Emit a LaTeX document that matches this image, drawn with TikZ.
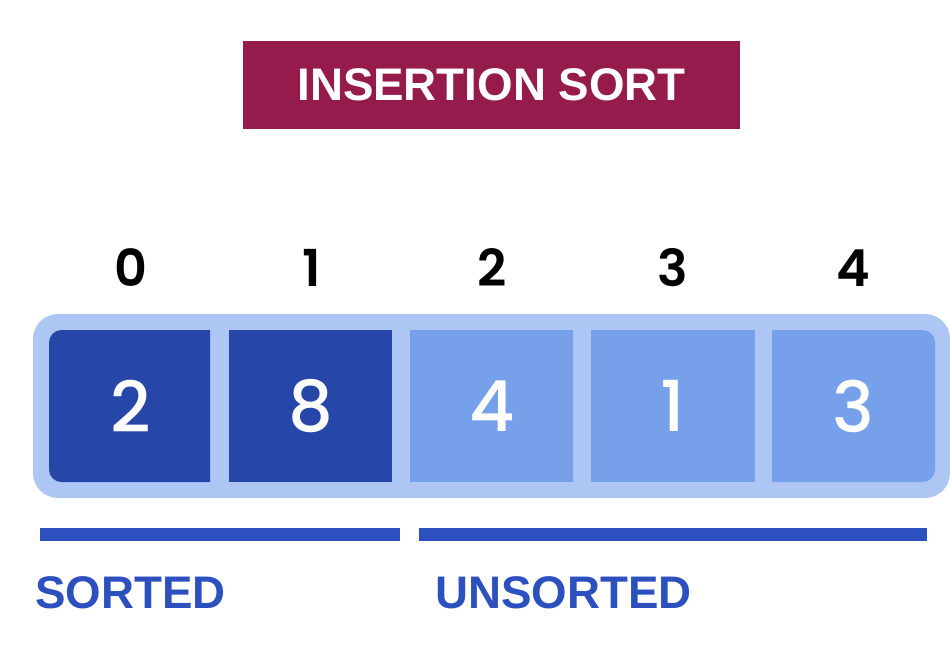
\documentclass[tikz,border=0pt]{standalone}
\usepackage{fontspec}
\setmainfont{Liberation Sans}
\newfontfamily\popfont{Poppins Medium}
\newfontfamily\popsemi{Poppins SemiBold}
\usepackage{tikz}
\usetikzlibrary{positioning}

\definecolor{titlered}{HTML}{951B4C}
\definecolor{trayblue}{HTML}{ADC6F4}
\definecolor{darkcell}{HTML}{2646A8}
\definecolor{lightcell}{HTML}{76A0EA}
\definecolor{markblue}{HTML}{2D50BF}

\tikzset{
  titlebox/.style={fill=titlered, text=white, minimum width=9.94cm, minimum height=1.76cm, font=\bfseries\fontsize{26}{30}\selectfont},
  idxlabel/.style={font=\popsemi\fontsize{29}{32}\selectfont},
  cellnum/.style={text=white, font=\popfont\fontsize{40}{44}\selectfont},
  barline/.style={markblue, line width=0.26cm},
  partlabel/.style={anchor=base west, inner sep=0pt, text=markblue, font=\bfseries\fontsize{26}{30}\selectfont}
}

\begin{document}
\begin{tikzpicture}[x=0.02cm,y=-0.02cm]
\useasboundingbox (0,0) rectangle (950,654);
\node[titlebox] (title) at (491.5,85) {INSERTION SORT};
% tray
\fill[trayblue, rounded corners=0.5cm] (33,314) rectangle (950,498);
% cells
\fill[darkcell] (210,330) [rounded corners=0.25cm] -- (49,330) -- (49,482) [sharp corners] -- (210,482) -- cycle;
\fill[darkcell] (229,330) rectangle (392,482);
\fill[lightcell] (410,330) rectangle (573,482);
\fill[lightcell] (591,330) rectangle (755,482);
\fill[lightcell] (772,330) [rounded corners=0.25cm] -- (935,330) -- (935,482) [sharp corners] -- (772,482) -- cycle;
\foreach \i/\v in {0/2,1/8,2/4,3/1,4/3}{
  \node[cellnum] (cell\i) at (130.5+180.8*\i,406) {\v};
  \node[idxlabel] (idx\i) at (130.5+180.8*\i,268) {\i};
}
% sorted / unsorted marks
\coordinate (sortA) at (40,534);
\coordinate (sortB) at (400,534);
\coordinate (unsortA) at (419,534);
\coordinate (unsortB) at (927,534);
\draw[barline] (sortA) -- (sortB);
\draw[barline] (unsortA) -- (unsortB);
\node[partlabel] (sorted) at (35,608) {SORTED};
\node[partlabel] (unsorted) at (435,608) {UNSORTED};
\end{tikzpicture}
\end{document}
